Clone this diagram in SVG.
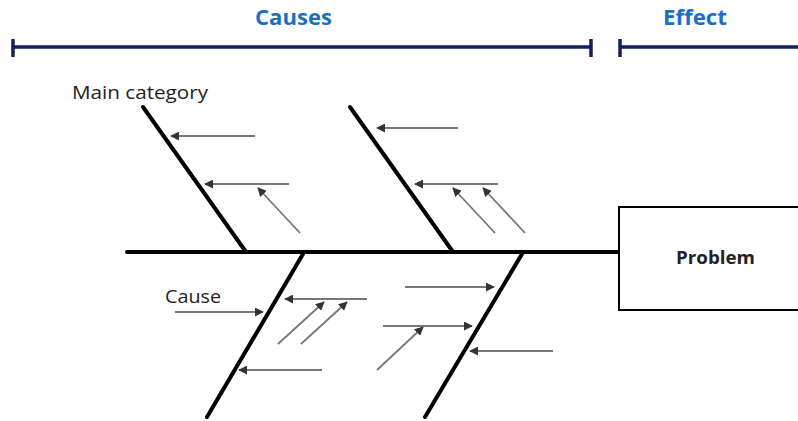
<svg xmlns="http://www.w3.org/2000/svg" width="798" height="421" viewBox="0 0 798 421">
<style>
.bar{stroke:#14205a;stroke-width:3.5;fill:none}
.bone{stroke:#000;stroke-width:4;fill:none;stroke-linecap:round}
.arr{stroke:#777;stroke-width:1.8;fill:none;marker-end:url(#ah)}
.hdr{font-family:"Open Sans","Liberation Sans",sans-serif;font-weight:bold;font-size:22px;fill:#1a6fc4}
.lbl{font-family:"Open Sans","Liberation Sans",sans-serif;font-size:19px;fill:#222}
</style>
<defs>
<marker id="ah" viewBox="0 0 10 10" refX="9" refY="5" markerWidth="5" markerHeight="5" orient="auto" markerUnits="strokeWidth">
<path d="M0,0 L10,5 L0,10 z" fill="#333"/>
</marker>
</defs>
<g id="header">
<path class="bar" d="M13,47 H591 M13,39 V57 M591,39 V57 M620,39 V57 M620,47 H798"/>
<text class="hdr" x="255" y="25" textLength="77" lengthAdjust="spacingAndGlyphs">Causes</text>
<text class="hdr" x="663" y="25" textLength="64" lengthAdjust="spacingAndGlyphs">Effect</text>
</g>
<g id="spine"><path class="bone" d="M127,252 H619" stroke-linecap="butt"/></g>
<g id="problem">
<rect x="619" y="207" width="185" height="103" fill="#fff" stroke="#000" stroke-width="2"/>
<text x="676" y="264" textLength="79" lengthAdjust="spacingAndGlyphs" font-family="'Open Sans','Liberation Sans',sans-serif" font-weight="bold" font-size="17" fill="#222">Problem</text>
</g>
<g id="bone1">
<path class="bone" d="M143,107 L246,252"/>
<text class="lbl" x="72" y="99" textLength="136" lengthAdjust="spacingAndGlyphs">Main category</text>
</g>
<g id="bone2"><path class="bone" d="M350,107 L453,252"/></g>
<g id="bone3">
<path class="bone" d="M303,254 L207,417"/>
<text class="lbl" x="165" y="303" textLength="56" lengthAdjust="spacingAndGlyphs">Cause</text>
</g>
<g id="bone4"><path class="bone" d="M522,254 L425,417"/></g>
<g id="connectors">
<path class="arr" d="M255,136 H171"/>
<path class="arr" d="M289,184 H205"/>
<path class="arr" d="M300,233 L258,188"/>
<path class="arr" d="M458,128 H377"/>
<path class="arr" d="M498,184 H415"/>
<path class="arr" d="M495,233 L453,188"/>
<path class="arr" d="M525,233 L483,188"/>
<path class="arr" d="M175,312 H263"/>
<path class="arr" d="M367,299 H285"/>
<path class="arr" d="M278,344 L324,302"/>
<path class="arr" d="M301,344 L347,302"/>
<path class="arr" d="M322,370 H239"/>
<path class="arr" d="M405,287 H494"/>
<path class="arr" d="M383,326 H472"/>
<path class="arr" d="M377,370 L423,327"/>
<path class="arr" d="M553,351 H470"/>
</g>
</svg>
